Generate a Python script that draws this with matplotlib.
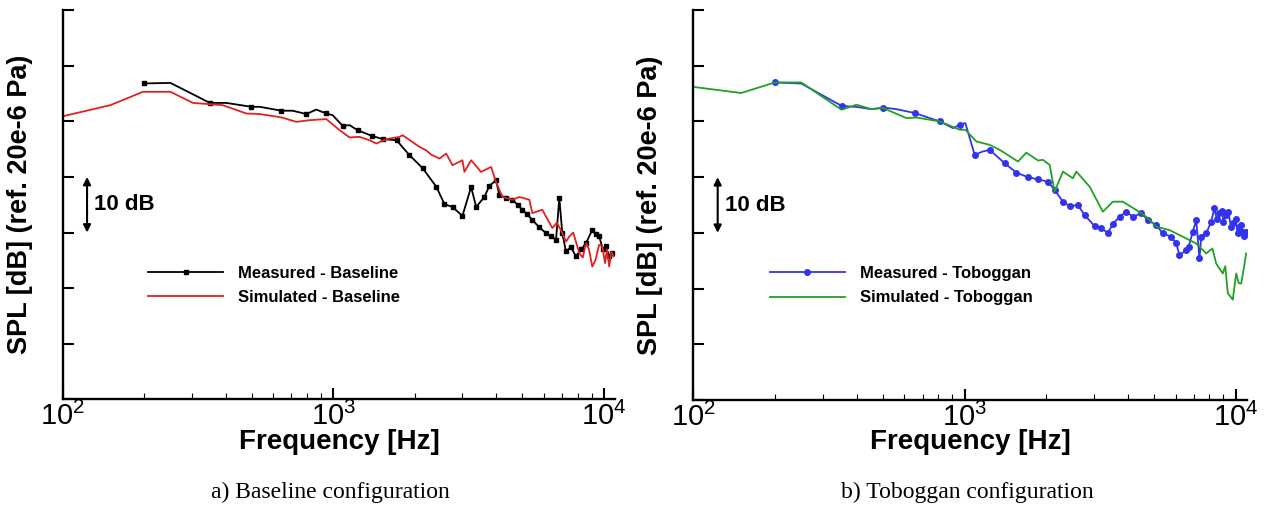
import numpy as np
import matplotlib
matplotlib.use('Agg')  # no display
import matplotlib.pyplot as plt
from matplotlib.ticker import LogLocator, NullFormatter, MultipleLocator

plt.rcParams['font.family'] = ['Liberation Sans', 'DejaVu Sans']
plt.rcParams['mathtext.fontset'] = 'custom'
plt.rcParams['mathtext.rm'] = 'Liberation Sans'

# a) Baseline - measured (frequency in Hz, SPL in relative dB)
base_meas_f = [200, 250, 350, 403, 498, 535, 643, 708, 795, 865, 942, 994, 1082, 1148,
               1230, 1385, 1521, 1713, 1912, 2136, 2405, 2575, 2757, 3000, 3230, 3372,
               3616, 3774, 3992, 4110, 4350, 4590, 4800, 4994, 5200, 5438, 5750, 6109,
               6400, 6653, 6841, 7017, 7241, 7550, 7880, 8250, 8586, 9057, 9350, 9611,
               9900, 10170, 10450, 10700]
base_meas_db = [56.8, 56.9, 53.3, 53.3, 52.6, 52.6, 51.9, 51.9, 51.3, 52.1, 51.4, 51.1, 49.2, 49.3,
                48.4, 47.4, 46.8, 46.6, 43.9, 41.6, 38.2, 35.1, 34.6, 33.0, 38.2, 34.6,
                36.4, 38.4, 39.4, 36.7, 36.3, 35.9, 35.0, 34.1, 33.3, 32.3, 31.0, 29.9,
                29.3, 28.7, 36.2, 29.9, 26.6, 27.4, 25.7, 27.0, 28.1, 30.5, 29.8, 29.3,
                27.0, 27.5, 25.8, 26.3]

# a) Baseline - simulated
base_sim_f = [100, 150, 198, 250, 303, 390, 477, 535, 643, 730, 818, 942, 1055, 1148, 1250,
              1361, 1441, 1569, 1756, 1802, 2082, 2200, 2300, 2467, 2612, 2757, 3000, 3051,
              3230, 3516, 3828, 3992, 4215, 4590, 4870, 5302, 5438, 5918, 6446, 6700, 7017,
              7250, 7448, 7700, 8110, 8350, 8586, 8800, 9057, 9300, 9600, 9858, 10100, 10250,
              10460, 10650, 10870]
base_sim_db = [50.9, 52.9, 55.3, 55.3, 53.3, 52.9, 51.4, 51.3, 50.7, 49.9, 50.2, 50.4, 48.4, 47.1, 47.2,
               46.6, 46.0, 46.8, 47.2, 47.5, 45.4, 44.8, 44.0, 43.3, 44.2, 42.1, 43.0, 40.9,
               43.0, 40.9, 41.8, 39.1, 36.4, 35.9, 36.4, 35.9, 33.5, 34.1, 30.8, 31.8, 29.9,
               28.4, 29.3, 30.0, 26.3, 25.5, 28.1, 27.0, 23.9, 25.0, 27.8, 27.5, 24.5, 27.0,
               23.9, 26.5, 25.7]

# b) Toboggan - measured
tob_meas_f = [200, 250, 352, 400, 454, 501, 561, 656, 810, 907, 960, 1007, 1090, 1167, 1238,
              1406, 1553, 1714, 1866, 2030, 2148, 2306, 2440, 2618, 2772, 3018, 3193, 3377,
              3524, 3729, 3948, 4175, 4484, 4742, 5090, 5383, 5781, 6032, 6202, 6564, 6700,
              6944, 7147, 7350, 7460, 7780, 8116, 8346, 8500, 8710, 8900, 9000, 9217, 9400,
              9600, 9750, 10000, 10150, 10318, 10450, 10610, 10750, 10900]
tob_meas_db = [57.0, 56.8, 52.8, 52.6, 52.2, 52.5, 52.2, 51.5, 50.0, 48.8, 49.4, 49.7, 44.0, 44.6, 44.9,
               42.5, 40.8, 40.0, 39.6, 39.2, 37.7, 35.6, 34.8, 35.0, 33.2, 31.2, 30.8, 30.0,
               31.6, 32.9, 33.8, 32.9, 33.5, 32.3, 31.4, 29.9, 29.3, 28.1, 26.0, 26.9, 27.5,
               30.2, 32.3, 25.4, 29.3, 29.9, 32.0, 34.4, 32.5, 33.5, 34.0, 32.0, 33.2, 33.8,
               31.0, 31.7, 32.5, 30.0, 31.1, 31.5, 30.2, 29.5, 30.2]

# b) Toboggan - simulated
tob_sim_f = [100, 150, 200, 250, 352, 400, 454, 501, 611, 665, 810, 960, 1007, 1106, 1238,
             1348, 1574, 1690, 1866, 1946, 2060, 2148, 2306, 2509, 2583, 2892, 3236, 3524,
             3834, 4298, 4677, 5090, 5700, 6380, 7147, 7780, 8200, 8470, 8956, 9150, 9344,
             9750, 10035, 10250, 10470, 10700, 10920]
tob_sim_db = [56.2, 55.1, 57.0, 57.0, 52.1, 53.0, 52.2, 52.4, 50.6, 50.7, 50.0, 48.5, 48.5, 46.4, 45.8,
              44.9, 42.8, 44.4, 43.0, 43.1, 42.2, 37.4, 41.0, 39.8, 41.0, 38.3, 33.8, 35.6,
              35.6, 34.1, 32.9, 31.1, 30.5, 29.3, 28.1, 26.3, 27.2, 24.5, 22.7, 24.0, 19.2,
              18.0, 22.7, 21.0, 20.9, 23.5, 26.3]

captions = ['a) Baseline configuration', 'b) Toboggan configuration']

fig = plt.figure(figsize=(12.67, 5.08), dpi=100)
ax1 = fig.add_axes([0.0495, 0.2136, 0.436, 0.7667])
ax2 = fig.add_axes([0.5472, 0.2126, 0.437, 0.7677])


def style(ax):
    ax.set_xscale('log')
    ax.set_xlim(100, 11000)
    ax.set_ylim(0, 70)
    ax.yaxis.set_major_locator(MultipleLocator(10))
    ax.set_yticklabels([])
    ax.xaxis.set_major_locator(LogLocator(base=10))
    ax.xaxis.set_minor_locator(LogLocator(base=10, subs=np.arange(2, 10)))
    ax.xaxis.set_minor_formatter(NullFormatter())
    for s in ['top', 'right']:
        ax.spines[s].set_visible(False)
    for s in ['left', 'bottom']:
        ax.spines[s].set_linewidth(1.7)
    ax.tick_params(which='major', direction='in', length=8, width=1.5, labelsize=21, pad=2)
    ax.tick_params(which='minor', direction='in', length=4, width=0.8)
    ax.set_xlabel('Frequency [Hz]', fontsize=20, fontweight='bold')
    ax.xaxis.set_label_coords(0.5, -0.075)
    ax.set_ylabel('SPL [dB] (ref. 20e-6 Pa)', fontsize=19.5, fontweight='bold')
    ax.yaxis.set_label_coords(-0.054, 0.5)
    # 10 dB scale arrow
    ax.annotate('', xy=(123, 40), xytext=(123, 30),
                arrowprops=dict(arrowstyle='<|-|>', color='black', lw=1.5, mutation_scale=11,
                                shrinkA=0, shrinkB=0))
    ax.text(131, 35, '10 dB', fontsize=16, fontweight='bold', va='center', ha='left')


style(ax1)
style(ax2)

# left panel
skip1 = [250, 403, 535, 708, 865, 994, 1148]
mark1 = [i for i, f in enumerate(base_meas_f) if f not in skip1]
ax1.plot(base_meas_f, base_meas_db, color='black', lw=1.3, marker='s', ms=3.2,
         markevery=mark1, label='Measured - Baseline')
ax1.plot(base_sim_f, base_sim_db, color='#dd2222', lw=1.3, label='Simulated - Baseline')

# right panel
skip2 = [250, 400, 454, 561, 907, 1007, 1167]
mark2 = [i for i, f in enumerate(tob_meas_f) if f not in skip2]
ax2.plot(tob_meas_f, tob_meas_db, color='#3333ee', lw=1.3, marker='o', ms=4,
         markevery=mark2, label='Measured - Toboggan')
ax2.plot(tob_sim_f, tob_sim_db, color='#22a022', lw=1.3, label='Simulated - Toboggan')

for ax, xa in [(ax1, 0.1545), (ax2, 0.1385)]:
    ax.legend(loc='upper left', bbox_to_anchor=(xa, 0.343), frameon=False, numpoints=1,
              handlelength=4.5, handletextpad=0.9, borderpad=0, borderaxespad=0,
              labelspacing=0.55, prop=dict(weight='bold', size=12))

fig.text(330 / 1267, 1 - 492 / 508, captions[0], ha='center', va='center',
         family='Liberation Serif', fontsize=17)
fig.text(967 / 1267, 1 - 492 / 508, captions[1], ha='center', va='center',
         family='Liberation Serif', fontsize=17)

fig.savefig('out.png', dpi=100)
plt.close(fig)
